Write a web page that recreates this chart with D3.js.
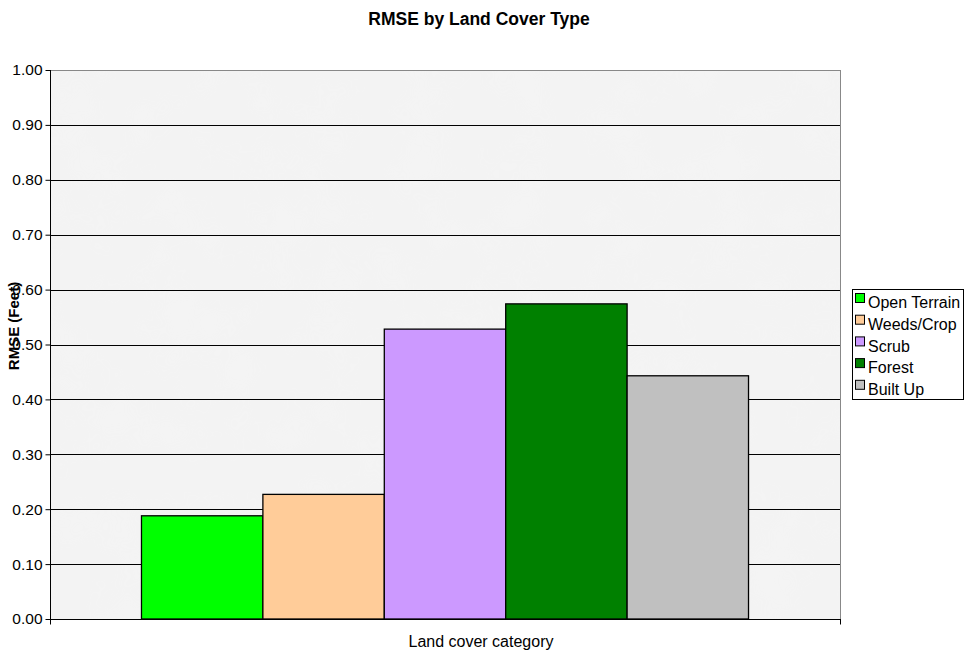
<!DOCTYPE html>
<html><head><meta charset="utf-8">
<script src="https://cdn.jsdelivr.net/npm/d3@7"></script>
<style>body{margin:0;background:#fff}svg{display:block}text{font-family:"Liberation Sans",Arial,sans-serif}</style>
</head><body>
<svg id="c" width="965" height="652"></svg>
<script>
const categories = ["Open Terrain","Weeds/Crop","Scrub","Forest","Built Up"];
const values = [0.188, 0.227, 0.528, 0.574, 0.443];
const colors = ["#00ff00","#ffcc99","#cc99ff","#008000","#c0c0c0"];
const yTicks = [0,0.1,0.2,0.3,0.4,0.5,0.6,0.7,0.8,0.9,1.0];
const groupLabel = ["Land cover category"];

const svg = d3.select("#c");
const L=50,R=840,T=70,B=619;
const y = d3.scaleLinear().domain([0,1]).range([B,T]);
const xg = d3.scaleBand().domain(groupLabel).range([L,R]).paddingInner(0).paddingOuter(0.1507);
const xb = d3.scaleBand().domain(categories).range([0,xg.bandwidth()]);

// background texture
const defs = svg.append("defs");
const f = defs.append("filter").attr("id","tex").attr("x",0).attr("y",0).attr("width","100%").attr("height","100%");
f.append("feTurbulence").attr("type","fractalNoise").attr("baseFrequency","0.02").attr("numOctaves",3).attr("seed",4);
f.append("feColorMatrix").attr("type","matrix").attr("values","0 0 0 0 0.91  0 0 0 0 0.91  0 0 0 0 0.91  0 0 0 -1.2 0.75");
f.append("feComposite").attr("in2","SourceGraphic").attr("operator","in");
svg.append("rect").attr("x",L).attr("y",T).attr("width",R-L).attr("height",B-T).attr("fill","#f3f3f3");
svg.append("rect").attr("x",L).attr("y",T).attr("width",R-L).attr("height",B-T).attr("fill","#f3f3f3").attr("filter","url(#tex)");
// border
svg.append("rect").attr("x",L+0.5).attr("y",T+0.5).attr("width",R-L).attr("height",B-T).attr("fill","none").attr("stroke","#888").attr("stroke-width",1);

// gridlines
svg.append("g").selectAll("line").data(yTicks.filter(d=>d>0&&d<1)).join("line")
  .attr("x1",L).attr("x2",R).attr("y1",d=>Math.round(y(d))+0.5).attr("y2",d=>Math.round(y(d))+0.5)
  .attr("stroke","#000").attr("stroke-width",1);

// bars
const g0 = xg(groupLabel[0]);
svg.append("g").selectAll("rect").data(categories).join("rect")
  .attr("x",(d)=>g0+xb(d)).attr("width",xb.bandwidth())
  .attr("y",(d,i)=>y(values[i])).attr("height",(d,i)=>B-y(values[i]))
  .attr("fill",(d,i)=>colors[i]).attr("stroke","#000").attr("stroke-width",1.3);

// y axis
const ya = svg.append("g").attr("transform",`translate(${L+0.5},0)`)
  .call(d3.axisLeft(y).tickValues(yTicks).tickFormat(d3.format(".2f")).tickSize(5).tickPadding(3));
ya.select(".domain").attr("stroke","#000").attr("d",`M0,${T}V${B}`);
ya.selectAll(".tick line").attr("stroke","#000");
ya.selectAll("text").attr("font-size",15.5).attr("fill","#000").attr("font-family","Liberation Sans, Arial, sans-serif");

// x axis
const xa = svg.append("g").attr("transform",`translate(0,${B+0.5})`);
xa.append("line").attr("x1",L).attr("x2",R+1).attr("stroke","#000");
xa.selectAll(".tk").data([L+0.5,R+0.5]).join("line").attr("class","tk").attr("x1",d=>d).attr("x2",d=>d).attr("y1",0).attr("y2",5).attr("stroke","#000");
svg.append("text").attr("x",481).attr("y",647).attr("text-anchor","middle").attr("font-size",16).text(groupLabel[0]);

// title
svg.append("text").attr("x",479).attr("y",25).attr("text-anchor","middle").attr("font-size",17.5).attr("font-weight","bold").text("RMSE by Land Cover Type");
// y label
svg.append("text").attr("transform","translate(19,326) rotate(-90)").attr("text-anchor","middle").attr("font-size",15).attr("font-weight","bold").text("RMSE (Feet)");

// legend
const lg = svg.append("g").attr("transform","translate(852,289)");
lg.append("rect").attr("x",0.5).attr("y",0.5).attr("width",111).attr("height",110).attr("fill","#fff").attr("stroke","#000");
const it = lg.selectAll("g").data(categories).join("g").attr("transform",(d,i)=>`translate(3,${13+i*21.7})`);
it.append("rect").attr("x",0.5).attr("y",-8.5).attr("width",9).attr("height",9).attr("fill",(d,i)=>colors[i]).attr("stroke","#000");
it.append("text").attr("x",13).attr("y",0.5).attr("dy","0.35em").attr("font-size",16).text(d=>d);
</script>
</body></html>
